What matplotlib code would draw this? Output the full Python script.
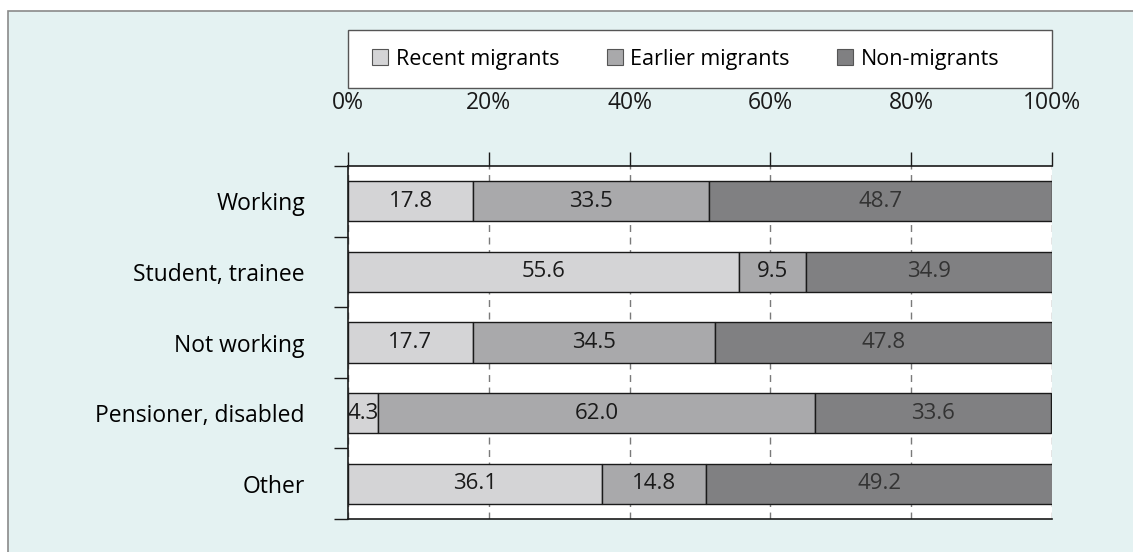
import matplotlib
matplotlib.use("Agg")
import matplotlib.pyplot as plt
from matplotlib.patches import Rectangle, Patch
import numpy as np

# data
categories = ["Working", "Student, trainee", "Not working", "Pensioner, disabled", "Other"]
series_names = ["Recent migrants", "Earlier migrants", "Non-migrants"]
recent = [17.8, 55.6, 17.7, 4.3, 36.1]
earlier = [33.5, 9.5, 34.5, 62.0, 14.8]
non_migrants = [48.7, 34.9, 47.8, 33.6, 49.2]
x_ticks = [0, 20, 40, 60, 80, 100]
x_tick_labels = ["0%", "20%", "40%", "60%", "80%", "100%"]

colors = ["#d4d4d6", "#a9a9ab", "#808082"]
text_colors = ["#1a1a1a", "#1a1a1a", "#333333"]

plt.rcParams['font.family'] = ['Open Sans', 'DejaVu Sans']

W, H = 1133, 552
fig = plt.figure(figsize=(W / 100, H / 100), dpi=100)

# light panel behind the chart
panel = Rectangle((8 / W, -0.01), 1.0, 1.01 - 11 / H, transform=fig.transFigure,
                  facecolor="#e4f2f2", edgecolor="#8a8a8a", linewidth=1.2, zorder=-5)
fig.patches.append(panel)

# legend box
legbox = Rectangle((348 / W, 1 - 88 / H), (1052 - 348) / W, 58 / H, transform=fig.transFigure,
                   facecolor="white", edgecolor="#555555", linewidth=1.0, zorder=-4)
fig.patches.append(legbox)

ax = fig.add_axes([348 / W, 1 - 519 / H, (1052 - 348) / W, (519 - 166) / H])
ax.set_zorder(2)
ax.set_facecolor("white")

y = np.arange(len(categories))
left = np.zeros(len(categories))
for vals, name, c, tc in zip([recent, earlier, non_migrants], series_names, colors, text_colors):
    vals = np.array(vals)
    bars = ax.barh(y, vals, left=left, height=0.57, color=c, edgecolor="#1a1a1a",
                   linewidth=1.0, label=name, zorder=3)
    for b, v, l in zip(bars, vals, left):
        ax.text(l + v / 2, b.get_y() + b.get_height() / 2, f"{v:.1f}",
                ha="center", va="center", fontsize=16, color=tc, zorder=4)
    left = left + vals

ax.set_xlim(0, 100)
ax.set_ylim(len(categories) - 0.5, -0.5)
ax.xaxis.tick_top()
ax.set_xticks(x_ticks)
ax.set_xticklabels(x_tick_labels, fontsize=16.5)
ax.tick_params(axis="x", direction="out", length=10, width=1, pad=27, colors="#1a1a1a")
ax.grid(axis="x", linestyle=(0, (5, 4)), color="#7a7a7a", linewidth=1, zorder=1)

ax.set_yticks(y)
ax.set_yticklabels(categories, fontsize=16.5)
ax.set_yticks(np.arange(len(categories) + 1) - 0.5, minor=True)
ax.tick_params(axis="y", which="major", length=0, pad=31)
ax.tick_params(axis="y", which="minor", direction="out", length=10, width=1, color="#1a1a1a")

for s in ["left", "top", "bottom"]:
    ax.spines[s].set_color("#1a1a1a")
    ax.spines[s].set_linewidth(1.2)
ax.spines["right"].set_visible(False)

handles = [Patch(facecolor=c, edgecolor="#555555", linewidth=0.8) for c in colors]
leg = fig.legend(handles, series_names, loc="center left",
                 bbox_to_anchor=(372 / W, 1 - 59 / H),
                 ncol=3, frameon=False, fontsize=15.5,
                 handlelength=0.75, handleheight=0.75, handletextpad=0.35,
                 borderaxespad=0, borderpad=0, columnspacing=2.2)

fig.savefig("out.png", dpi=100)
